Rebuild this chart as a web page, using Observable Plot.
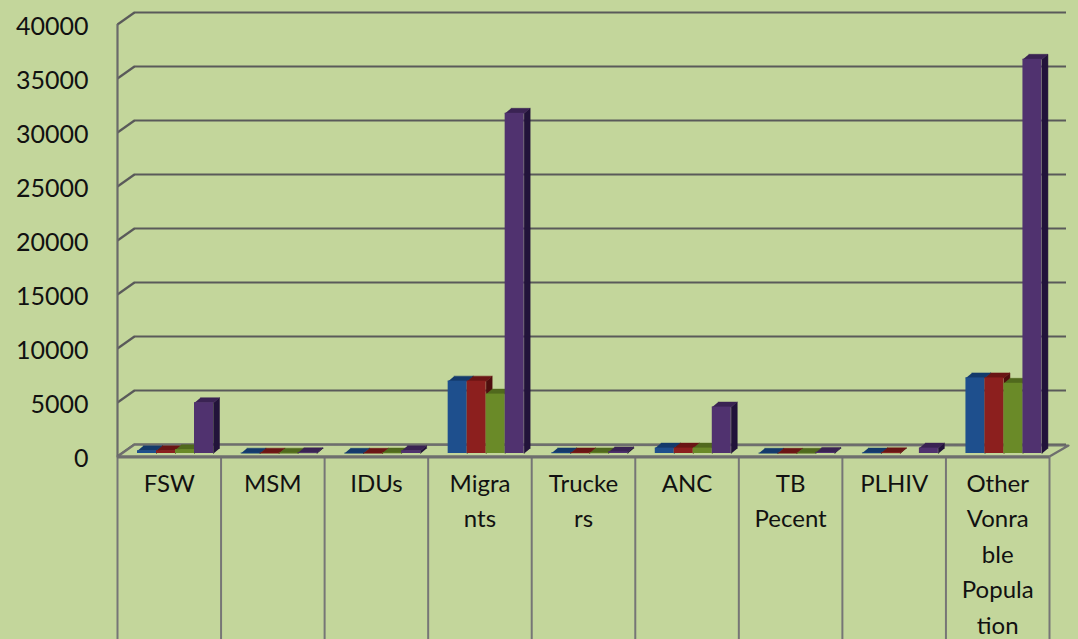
<!DOCTYPE html>
<html><head><meta charset="utf-8">
<script src="https://cdn.jsdelivr.net/npm/d3@7"></script>
<script src="https://cdn.jsdelivr.net/npm/@observablehq/plot@0.6"></script>
<style>
html,body{margin:0;padding:0;background:#c3d69b;}
#chart svg{display:block;}
</style></head><body><div id="chart"></div>
<script>
// ---- data ----
const categories = ["FSW","MSM","IDUs","Migrants","Truckers","ANC","TB Pecent","PLHIV","Other Vonrable Population"];
const categoryLabels = ["FSW","MSM","IDUs","Migra\nnts","Trucke\nrs","ANC","TB\nPecent","PLHIV","Other\nVonra\nble\nPopula\ntion"];
const seriesNames = ["Series 1","Series 2","Series 3","Series 4"];
const series1 = [250, 30, 20, 6700, 50, 500, 20, 40, 7000];
const series2 = [250, 30, 20, 6700, 50, 500, 20, 60, 7000];
const series3 = [350, 30, 40, 5500, 50, 500, 20, null, 6500];
const series4 = [4700, 60, 250, 31500, 150, 4300, 100, 500, 36500];
const yTicks = [0, 5000, 10000, 15000, 20000, 25000, 30000, 35000, 40000];

// ---- styles ----
const frontColors = ["#1e4f8d", "#8c1f1e", "#6a8a28", "#50326f"];
const topColors   = ["#143a6b", "#6a1514", "#50691d", "#3a2353"];
const sideColors  = ["#0f2c52", "#4f0e0e", "#3e5216", "#22133a"];
const bgColor = "#c3d69b";

// ---- layout (px) ----
const W = 1078, H = 639;
const plotLeft = 117, plotRight = 1049, plotTop = 24, plotFloor = 456;
const yMax = 40000, nCat = categories.length;
const ux = nCat / (plotRight - plotLeft);     // px -> x units
const uy = yMax / (plotFloor - plotTop);      // px -> y units
const wallDX = 17, wallDY = 12;
const barOffset = 20, barW = 19, barDX = 6, barDY = 5, barLift = 3;

const allSeries = [series1, series2, series3, series4];

function barGeom(s) {
  const rects = [], tops = [], sides = [];
  allSeries[s].forEach((v, i) => {
    if (v == null) return;
    const x1 = i + (barOffset + barW * s) * ux;
    const x2 = x1 + barW * ux;
    const y1 = barLift * uy;
    const y2 = y1 + v;
    const ddx = barDX * ux, ddy = barDY * uy;
    rects.push({x1, x2, y1, y2, category: categories[i], series: seriesNames[s], value: v});
    const id = s + "-" + i;
    tops.push({id, x: x1, y: y2}, {id, x: x2, y: y2}, {id, x: x2 + ddx, y: y2 + ddy}, {id, x: x1 + ddx, y: y2 + ddy});
    sides.push({id, x: x2, y: y1}, {id, x: x2, y: y2}, {id, x: x2 + ddx, y: y2 + ddy}, {id, x: x2 + ddx, y: y1 + ddy});
  });
  return {rects, tops, sides};
}

const marks = [];
// back wall gridlines
marks.push(Plot.ruleY(yTicks, {y: d => d + wallDY * uy, dx: wallDX, stroke: "#5a5a5a", strokeWidth: 2.2}));
// left wall diagonals
marks.push(Plot.link(yTicks, {x1: 0, y1: d => d, x2: wallDX * ux, y2: d => d + wallDY * uy, stroke: "#5a5a5a", strokeWidth: 2.2}));
// floor slab
const floorPts = [
  {x: 0, y: 0}, {x: nCat, y: 0}, {x: nCat + 19 * ux, y: 11 * uy}, {x: wallDX * ux, y: wallDY * uy}, {x: 0, y: 0}
];
marks.push(Plot.line(floorPts, {x: "x", y: "y", fill: bgColor, stroke: "#6e6e6e", strokeWidth: 2.2}));
// table dividers & axis line
marks.push(Plot.ruleX(d3.range(nCat + 1), {y1: 0, y2: -(H - plotFloor) * uy, stroke: "#767676", strokeWidth: 2}));
marks.push(Plot.ruleX([0], {y1: 0, y2: yMax, stroke: "#6a6a6a", strokeWidth: 2.2}));
marks.push(Plot.ruleY([0], {dy: 0.5, stroke: "#6e6e6e", strokeWidth: 3}));
// bars
for (let s = 0; s < 4; s++) {
  const g = barGeom(s);
  marks.push(Plot.line(g.sides, {x: "x", y: "y", z: "id", fill: sideColors[s], stroke: sideColors[s], strokeWidth: 0.5}));
  marks.push(Plot.line(g.tops, {x: "x", y: "y", z: "id", fill: topColors[s], stroke: topColors[s], strokeWidth: 0.5}));
  marks.push(Plot.rect(g.rects, {x1: "x1", x2: "x2", y1: "y1", y2: "y2", fill: frontColors[s]}));
}
// y tick labels
marks.push(Plot.text(yTicks, {x: 0, y: d => d, text: d => String(d), textAnchor: "end", dx: -29, dy: 2, fontSize: 25, fill: "#111"}));
// category labels
marks.push(Plot.text(categoryLabels, {x: (d, i) => i + 0.5, y: 0, text: d => d, lineAnchor: "top", dy: 10, lineHeight: 1.48, fontSize: 24, fill: "#111"}));

const chart = Plot.plot({
  width: W, height: H,
  marginLeft: plotLeft, marginRight: W - plotRight, marginTop: plotTop, marginBottom: H - plotFloor,
  x: {domain: [0, nCat], axis: null},
  y: {domain: [0, yMax], axis: null},
  style: {background: bgColor, fontFamily: "Lato, 'Open Sans', sans-serif", overflow: "visible"},
  marks
});
document.getElementById("chart").append(chart);
</script>
</body></html>
